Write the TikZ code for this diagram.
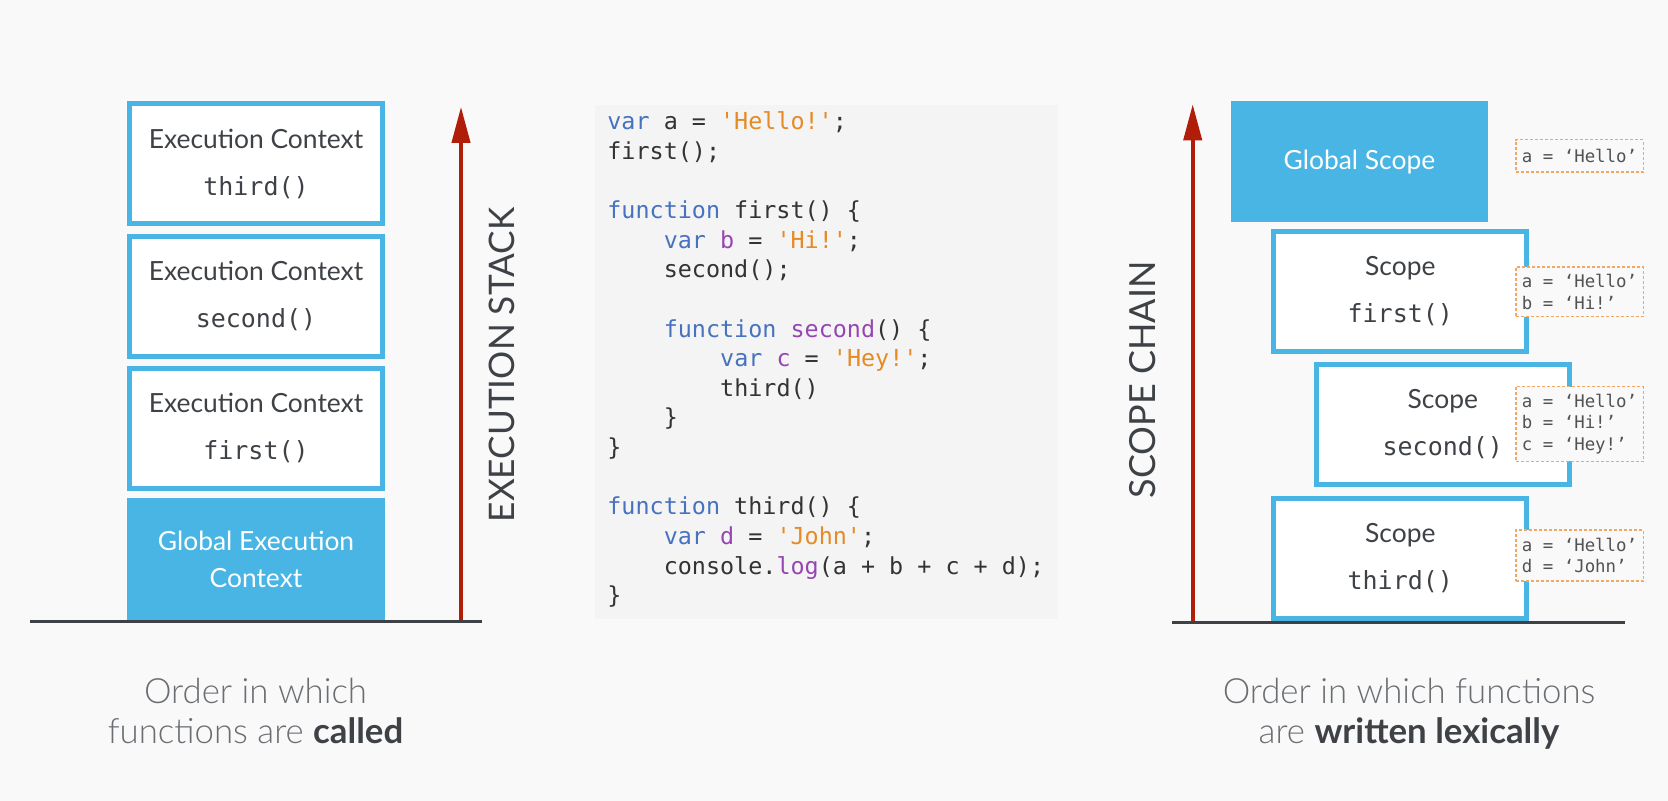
\documentclass[tikz,border=0pt]{standalone}
\usepackage{fontspec}
\setmainfont{Lato}
\setmonofont{DejaVu Sans Mono}
\newfontfamily\lightfont{Lato Light}
\usetikzlibrary{arrows.meta}

\definecolor{pagebg}{HTML}{F9F9F9}
\definecolor{codebg}{HTML}{F4F4F4}
\definecolor{boxblue}{HTML}{48B5E4}
\definecolor{stackred}{HTML}{B01E0A}
\definecolor{inkgray}{HTML}{3E4246}
\definecolor{softgray}{HTML}{6A6E72}
\definecolor{codeink}{HTML}{333333}
\definecolor{kwblue}{HTML}{4672C0}
\definecolor{idpurple}{HTML}{9646B2}
\definecolor{strorange}{HTML}{E68A25}
\definecolor{varorange}{HTML}{F0A862}

\newcommand{\kw}[1]{\textcolor{kwblue}{#1}}
\newcommand{\idf}[1]{\textcolor{idpurple}{#1}}
\newcommand{\jsstr}[1]{\textcolor{strorange}{#1}}
\newcommand{\q}{\textquotesingle}
\newcommand{\fn}[1]{{\fontsize{12.5}{23.5}\selectfont\ttfamily #1}}
\newcommand{\boldpart}[1]{{\normalfont\bfseries\color{inkgray}#1}}

\tikzset{
  ctxbox/.style={draw=boxblue, line width=2.5pt, fill=white, minimum width=126.5pt,
    minimum height=60pt, align=center, text=inkgray, font=\fontsize{13.2}{23.5}\selectfont},
  globalbox/.style={ctxbox, fill=boxblue, text=white, font=\fontsize{13.2}{18.5}\selectfont},
  varbox/.style={draw=varorange, line width=0.75pt, dash pattern=on 1.5pt off 1pt,
    fill=pagebg, minimum width=63.75pt, align=left, inner sep=0pt, text=codeink!85,
    font=\fontsize{8.7}{10.75}\ttfamily},
  codeline/.style={anchor=base west, inner sep=0pt, text=codeink, font=\fontsize{11.7}{14}\ttfamily},
  axistitle/.style={rotate=90, text=inkgray, font=\fontsize{17.6}{20}\selectfont},
  caption/.style={anchor=base, text=softgray, font=\lightfont\fontsize{17.4}{20}\selectfont},
  stackarrow/.style={draw=stackred, line width=2pt, -{Triangle[length=18pt, width=9pt]}},
  ground/.style={draw=inkgray, line width=1.5pt}
}

\begin{document}
\begin{tikzpicture}[x=0.5pt, y=-0.5pt]
  \fill[pagebg] (0,0) rectangle (1668,801);
  \useasboundingbox (0,0) rectangle (1668,801);

  % Execution stack
  \node[ctxbox] (ctxthird) at (256,163.9) {Execution Context\\\fn{third()}};
  \node[ctxbox] (ctxsecond) at (256,296.1) {Execution Context\\\fn{second()}};
  \node[ctxbox] (ctxfirst) at (256,428.2) {Execution Context\\\fn{first()}};
  \node[globalbox, minimum height=59pt] (ctxglobal) at (256,559.5) {Global Execution\\Context};

  \coordinate (stackfoot) at (461,621);
  \coordinate (stacktip) at (461,106.8);
  \draw[stackarrow] (stackfoot) -- (stacktip);
  \coordinate (groundL) at (30,621);
  \coordinate (groundR) at (482,621);
  \draw[ground] (groundL) -- (groundR);
  \node[axistitle] (stacklabel) at (501.7,365) {EXECUTION STACK};

  % Code
  \fill[codebg] (595,105) rectangle (1058,619);
  \foreach \k/\lvl/\txt in {
    0/0/{\kw{var} a = \jsstr{\q Hello!\q};},
    1/0/{first();},
    3/0/{\kw{function} first() \{},
    4/1/{\kw{var} \idf{b} = \jsstr{\q Hi!\q};},
    5/1/{second();},
    7/1/{\kw{function} \idf{second}() \{},
    8/2/{\kw{var} \idf{c} = \jsstr{\q Hey!\q};},
    9/2/{third()},
    10/1/{\}},
    11/0/{\}},
    13/0/{\kw{function} third() \{},
    14/1/{\kw{var} \idf{d} = \jsstr{\q John\q};},
    15/1/{console.\idf{log}(a + b + c + d);},
    16/0/{\}}}
    \node[codeline] (code\k) at ({607+56.4*\lvl},{130+29.6*\k}) {\txt};

  % Scope chain
  \node[globalbox, minimum width=126pt, minimum height=58pt] (scopeglobal) at (1359.4,162) {Global Scope};
  \node[ctxbox] (scopefirst) at (1400.3,291.3) {Scope\\\fn{first()}};
  \node[ctxbox] (scopesecond) at (1442.8,424.3) {Scope\\\fn{second()}};
  \node[ctxbox] (scopethird) at (1400.3,558.2) {Scope\\\fn{third()}};

  \node[varbox, minimum height=16.25pt] (varsglobal) at (1579.5,155.9) {a = ‘Hello’};
  \node[varbox, minimum height=24.75pt] (varsfirst) at (1579.5,292) {a = ‘Hello’\\b = ‘Hi!’};
  \node[varbox, minimum height=37.25pt] (varssecond) at (1579.5,424) {a = ‘Hello’\\b = ‘Hi!’\\c = ‘Hey!’};
  \node[varbox, minimum height=25.5pt] (varsthird) at (1579.5,555.6) {a = ‘Hello’\\d = ‘John’};

  \coordinate (chainfoot) at (1192.7,622);
  \coordinate (chaintip) at (1192.7,104.3);
  \draw[stackarrow] (chainfoot) -- (chaintip);
  \coordinate (floorL) at (1172,622);
  \coordinate (floorR) at (1625,622);
  \draw[ground] (floorL) -- (floorR);
  \node[axistitle, font=\fontsize{18}{20}\selectfont] (chainlabel) at (1142.7,380) {SCOPE CHAIN};

  % Captions
  \node[caption] (calledA) at (255.5,703.3) {Order in which};
  \node[caption] (calledB) at (255.5,743.3) {functions are \boldpart{called}};
  \node[caption] (lexicalA) at (1409,703.3) {Order in which functions};
  \node[caption] (lexicalB) at (1409,743.3) {are \boldpart{written lexically}};
\end{tikzpicture}
\end{document}
